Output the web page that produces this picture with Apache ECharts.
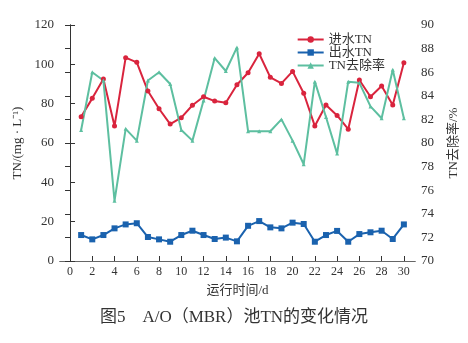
<!DOCTYPE html>
<html><head><meta charset="utf-8">
<script src="https://cdn.jsdelivr.net/npm/echarts@6/dist/echarts.min.js"></script>
<style>html,body{margin:0;padding:0;background:#fff}#c{width:468px;height:343px}</style>
</head><body><div id="c"></div>
<script>
const days = [1,2,3,4,5,6,7,8,9,10,11,12,13,14,15,16,17,18,19,20,21,22,23,24,25,26,27,28,29,30];
const influentTN = [73.4,82.7,92.5,68.6,103.4,101,86.4,77.4,69.6,72.9,79.2,83.5,81.3,80.5,89.6,95.7,105.4,93.4,90.3,96.4,85.3,68.6,79.3,74,67,92,83.5,89,79.3,100.8];
const effluentTN = [13.2,11.0,13.2,16.6,18.6,19.2,12.2,11.0,9.8,13.2,15.4,13.2,11.2,11.9,10.0,17.9,20.3,17.1,16.6,19.5,18.8,9.8,13.2,15.3,9.8,13.7,14.6,15.4,11.2,18.6];
const removalRate = [81.1,86.0,85.3,75.1,81.2,80.2,85.3,86.0,85.0,81.1,80.2,83.6,87.2,86.1,88.1,81.0,81.0,81.0,82.0,80.2,78.2,85.2,82.2,79.1,85.2,85.1,83.1,82.1,86.2,82.1];
const xTicks = [0,2,4,6,8,10,12,14,16,18,20,22,24,26,28,30];
const seriesNames = ['进水TN','出水TN','TN去除率'];
const caption = '图5　A/O（MBR）池TN的变化情况';

const pair = arr => days.map((d,i)=>[d,arr[i]]);
const font = '"Liberation Serif","Noto Sans CJK SC",serif';
const chart = echarts.init(document.getElementById('c'));
chart.setOption({
  animation:false,
  textStyle:{fontFamily:font},
  grid:{left:60,right:53,top:25,bottom:82},
  legend:{
    data:seriesNames, orient:'vertical', right:78, top:28, itemGap:0,
    itemWidth:26, itemHeight:8,
    textStyle:{fontFamily:font,fontSize:13,color:'#333'}
  },
  graphic:[{type:'text',left:'center',top:309,style:{text:caption,font:'17px '+font,fill:'#333'}}],
  xAxis:[{
    type:'value', min:-0.9, max:31,
    name:'运行时间/d', nameLocation:'middle', nameGap:23,
    nameTextStyle:{fontSize:13,color:'#333',fontFamily:font},
    axisLine:{onZero:false,lineStyle:{color:'#333',width:1}},
    axisTick:{inside:true,length:5,customValues:xTicks,lineStyle:{color:'#333'}},
    axisLabel:{customValues:xTicks,fontSize:12,color:'#333',margin:5,fontFamily:font},
    splitLine:{show:false}
  },{
    type:'value', position:'top', min:-0.9, max:31,
    axisLine:{lineStyle:{color:'#666',width:1}},
    axisTick:{show:false}, axisLabel:{show:false}, splitLine:{show:false}
  }],
  yAxis:[{
    type:'value', min:0, max:120, interval:20,
    name:'TN/(mg · L⁻¹)', nameLocation:'middle', nameGap:31, nameRotate:90,
    nameTextStyle:{fontSize:13,color:'#333',fontFamily:font},
    axisLine:{show:true,lineStyle:{color:'#333'}},
    axisTick:{show:true,inside:true,length:5,lineStyle:{color:'#333'}},
    axisLabel:{fontSize:13,color:'#333',margin:6,fontFamily:font},
    splitLine:{show:false}
  },{
    type:'value', min:70, max:90, interval:2, position:'right',
    name:'TN去除率/%', nameLocation:'middle', nameGap:32, nameRotate:90,
    nameTextStyle:{fontSize:13,color:'#333',fontFamily:font},
    axisLine:{show:true,lineStyle:{color:'#333'}},
    axisTick:{show:true,inside:true,length:5,lineStyle:{color:'#333'}},
    axisLabel:{fontSize:13,color:'#333',margin:6,fontFamily:font},
    splitLine:{show:false}
  }],
  series:[{
    name:seriesNames[0], type:'line', yAxisIndex:0, data:pair(influentTN),
    symbol:'circle', symbolSize:5, lineStyle:{width:2,color:'#d9243d'},
    itemStyle:{color:'#d9243d'}
  },{
    name:seriesNames[1], type:'line', yAxisIndex:0, data:pair(effluentTN),
    symbol:'rect', symbolSize:6, lineStyle:{width:2,color:'#1a62ae'},
    itemStyle:{color:'#1a62ae'}
  },{
    name:seriesNames[2], type:'line', yAxisIndex:1, data:pair(removalRate),
    symbol:'triangle', symbolSize:4, lineStyle:{width:2,color:'#5dbfa0'},
    itemStyle:{color:'#5dbfa0'}
  }]
});
</script></body></html>
